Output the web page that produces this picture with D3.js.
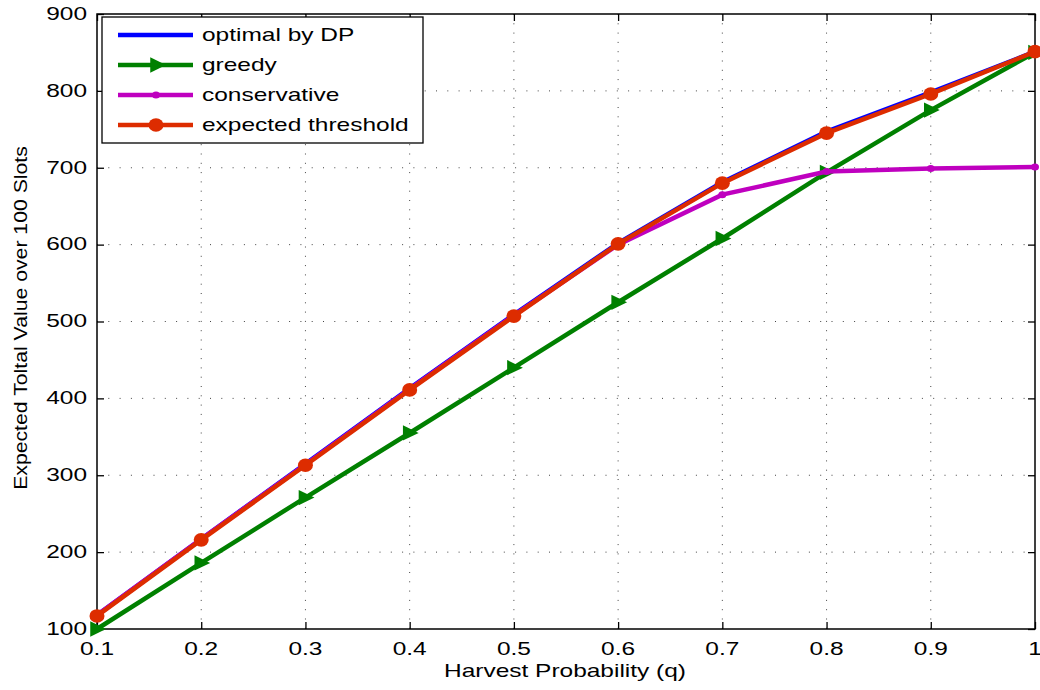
<!DOCTYPE html>
<html>
<head>
<meta charset="utf-8">
<script src="https://cdn.jsdelivr.net/npm/d3@7"></script>
<style>
  html, body { margin: 0; padding: 0; background: #fff; }
  svg { display: block; font-family: "Liberation Sans", Arial, sans-serif; }
</style>
</head>
<body>
<svg id="chart" width="1040" height="690"></svg>
<script>
// Harvest probability values
const q = [0.1, 0.2, 0.3, 0.4, 0.5, 0.6, 0.7, 0.8, 0.9, 1.0];

// Expected total value over 100 slots for each policy
const optimalDP = [118, 217, 315, 413, 509, 602, 681, 747, 798, 851];
const greedy = [100, 186, 271, 355, 440, 525, 608, 694, 775, 850];
const conservative = [118, 217, 314, 412, 508, 600, 665, 695, 699, 701];
const expectedThreshold = [117, 216, 313, 411, 507, 601, 680, 745, 796, 851];

const seriesNames = ["optimal by DP", "greedy", "conservative", "expected threshold"];
const xTicks = [0.1, 0.2, 0.3, 0.4, 0.5, 0.6, 0.7, 0.8, 0.9, 1];
const xTickLabels = ["0.1", "0.2", "0.3", "0.4", "0.5", "0.6", "0.7", "0.8", "0.9", "1"];
const yTicks = [100, 200, 300, 400, 500, 600, 700, 800, 900];

const svg = d3.select("#chart");
const pL = 97, pR = 1035, pT = 14, pB = 629;
const FS = 18;        // base font size
const SX = 1.36;      // horizontal text stretch

const x = d3.scaleLinear().domain([0.1, 1]).range([pL, pR]);
const y = d3.scaleLinear().domain([100, 900]).range([pB, pT]);

// Horizontally stretched text helper
function label(parent, tx, ty, str, anchor, sx = SX, sy = 1) {
  return parent.append("text")
    .attr("transform", `translate(${tx},${ty}) scale(${sx},${sy})`)
    .attr("text-anchor", anchor).attr("dominant-baseline", "central")
    .attr("font-size", FS).attr("fill", "#000").text(str);
}

// Dotted grid
const grid = svg.append("g").attr("stroke", "#444").attr("stroke-width", 1);
grid.selectAll("line.gx").data(xTicks.slice(1, -1)).join("line").attr("class", "gx")
  .attr("stroke-dasharray", "1,8.3")
  .attr("x1", d => x(d)).attr("x2", d => x(d)).attr("y1", pT).attr("y2", pB);
grid.selectAll("line.gy").data(yTicks.slice(1, -1)).join("line").attr("class", "gy")
  .attr("stroke-dasharray", "1,10.3")
  .attr("y1", d => y(d)).attr("y2", d => y(d)).attr("x1", pL).attr("x2", pR);

// Axes with inward ticks on all four sides (labels drawn separately)
const tickLen = 7;
const axB = svg.append("g").attr("transform", `translate(0,${pB})`)
  .call(d3.axisBottom(x).tickValues(xTicks).tickSizeInner(-tickLen).tickSizeOuter(0).tickFormat(""));
const axT = svg.append("g").attr("transform", `translate(0,${pT})`)
  .call(d3.axisTop(x).tickValues(xTicks).tickSizeInner(-tickLen).tickSizeOuter(0).tickFormat(""));
const axL = svg.append("g").attr("transform", `translate(${pL},0)`)
  .call(d3.axisLeft(y).tickValues(yTicks).tickSizeInner(-tickLen).tickSizeOuter(0).tickFormat(""));
const axR = svg.append("g").attr("transform", `translate(${pR},0)`)
  .call(d3.axisRight(y).tickValues(yTicks).tickSizeInner(-tickLen).tickSizeOuter(0).tickFormat(""));

[axB, axT, axL, axR].forEach(a => {
  a.select(".domain").remove();
  a.selectAll(".tick line").attr("stroke", "#000").attr("stroke-width", 1.3);
  a.selectAll("text").remove();
});

// Tick labels
const tl = svg.append("g");
xTicks.forEach((v, i) => label(tl, x(v), 649, xTickLabels[i], "middle"));
yTicks.forEach(v => label(tl, 87, y(v), String(v), "end"));

// Box frame
svg.append("rect").attr("x", pL).attr("y", pT)
  .attr("width", pR - pL).attr("height", pB - pT)
  .attr("fill", "none").attr("stroke", "#000").attr("stroke-width", 1.5);

const line = d3.line().x((d, i) => x(q[i])).y(d => y(d));
const colors = { dp: "#0000ff", greedy: "#008000", cons: "#bf00bf", thr: "#dd2c00" };
const LW = 4.5;

function triPath(cx, cy, s) {
  // right-pointing triangle marker
  return `M${cx + s},${cy} L${cx - s * 0.75},${cy - s * 0.85} L${cx - s * 0.75},${cy + s * 0.85} Z`;
}

const plot = svg.append("g");

// optimal by DP
plot.append("path").datum(optimalDP).attr("d", line)
  .attr("fill", "none").attr("stroke", colors.dp).attr("stroke-width", LW);

// greedy
plot.append("path").datum(greedy).attr("d", line)
  .attr("fill", "none").attr("stroke", colors.greedy).attr("stroke-width", LW);
plot.selectAll("path.gm").data(greedy).join("path").attr("class", "gm")
  .attr("d", (d, i) => triPath(x(q[i]), y(d), 9)).attr("fill", colors.greedy);

// conservative
plot.append("path").datum(conservative).attr("d", line)
  .attr("fill", "none").attr("stroke", colors.cons).attr("stroke-width", LW);
plot.selectAll("ellipse.cm").data(conservative).join("ellipse").attr("class", "cm")
  .attr("cx", (d, i) => x(q[i])).attr("cy", d => y(d)).attr("rx", 4).attr("ry", 3.5)
  .attr("fill", colors.cons);

// expected threshold
plot.append("path").datum(expectedThreshold).attr("d", line)
  .attr("fill", "none").attr("stroke", colors.thr).attr("stroke-width", LW);
plot.selectAll("ellipse.tm").data(expectedThreshold).join("ellipse").attr("class", "tm")
  .attr("cx", (d, i) => x(q[i])).attr("cy", d => y(d)).attr("rx", 7.5).attr("ry", 6.8)
  .attr("fill", colors.thr);

// Legend
const lg = svg.append("g");
lg.append("rect").attr("x", 102).attr("y", 17).attr("width", 321).attr("height", 126)
  .attr("fill", "#fff").attr("stroke", "#000").attr("stroke-width", 1.3);
const legendKeys = ["dp", "greedy", "cons", "thr"];
seriesNames.forEach((name, i) => {
  const ly = 35 + i * 30;
  const c = colors[legendKeys[i]];
  lg.append("line").attr("x1", 118).attr("x2", 193).attr("y1", ly).attr("y2", ly)
    .attr("stroke", c).attr("stroke-width", LW);
  if (legendKeys[i] === "greedy") lg.append("path").attr("d", triPath(157, ly, 9)).attr("fill", c);
  if (legendKeys[i] === "cons") lg.append("ellipse").attr("cx", 156).attr("cy", ly).attr("rx", 4).attr("ry", 3.5).attr("fill", c);
  if (legendKeys[i] === "thr") lg.append("ellipse").attr("cx", 156).attr("cy", ly).attr("rx", 7.5).attr("ry", 6.8).attr("fill", c);
  label(lg, 202, ly, name, "start");
});

// Axis titles
label(svg, 565, 671.5, "Harvest Probability (q)", "middle");
svg.append("text")
  .attr("transform", `translate(21,318) rotate(-90) scale(1.18,1)`)
  .attr("text-anchor", "middle").attr("dominant-baseline", "central")
  .attr("font-size", FS).attr("fill", "#000")
  .text("Expected Toltal Value over 100 Slots");
</script>
</body>
</html>
